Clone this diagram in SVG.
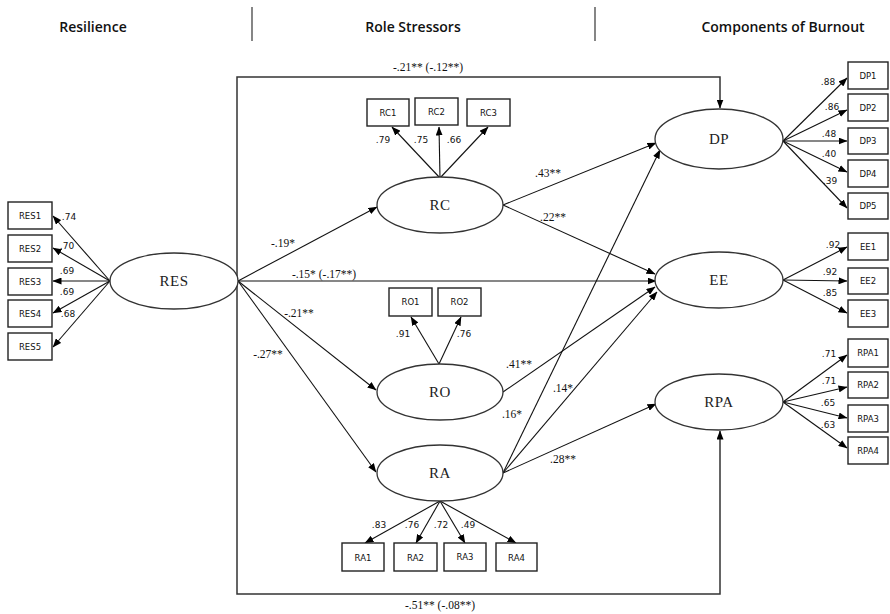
<svg xmlns="http://www.w3.org/2000/svg" width="890" height="614" viewBox="0 0 890 614">
<defs>
<marker id="ah" markerWidth="9" markerHeight="7" refX="8.5" refY="3.5" orient="auto" markerUnits="userSpaceOnUse">
<path d="M0,0 L9,3.5 L0,7 z" fill="#000"/>
</marker>
</defs>
<style>
.hdr{font-family:"Open Sans","Liberation Sans",sans-serif;font-weight:600;font-size:14px;fill:#111;text-anchor:middle}
.sep{stroke:#444;stroke-width:1.3}
.lat{fill:#fff;stroke:#333;stroke-width:1.3}
.latt{font-family:"Liberation Serif",serif;font-size:15px;fill:#222;text-anchor:middle;letter-spacing:0.5px}
.box{fill:#fff;stroke:#222;stroke-width:1.4}
.boxt{font-family:"DejaVu Sans","Liberation Sans",sans-serif;font-size:8.5px;fill:#111;text-anchor:middle}
.ld{font-family:"DejaVu Sans","Liberation Sans",sans-serif;font-size:9px;fill:#111;text-anchor:middle}
.pl{font-family:"Liberation Serif",serif;font-size:11.5px;fill:#111;text-anchor:middle}
.e{fill:none;stroke:#111;stroke-width:1.1;marker-end:url(#ah)}
.frame{fill:none;stroke:#333;stroke-width:1.5;marker-end:url(#ah)}
</style>
<g id="headers">
<text class="hdr" x="93" y="32">Resilience</text>
<line class="sep" x1="252" y1="7" x2="252" y2="41"/>
<text class="hdr" x="413" y="32">Role Stressors</text>
<line class="sep" x1="595" y1="7" x2="595" y2="41"/>
<text class="hdr" x="783" y="32">Components of Burnout</text>
</g>
<g id="connectors">
<path class="frame" d="M237,281 V77 H720 V108"/>
<path class="frame" d="M237,281 V594 H720 V431"/>
<line class="e" x1="110" y1="281" x2="53" y2="216"/>
<line class="e" x1="110" y1="281" x2="53" y2="248"/>
<line class="e" x1="110" y1="281" x2="53" y2="281"/>
<line class="e" x1="110" y1="281" x2="53" y2="313"/>
<line class="e" x1="110" y1="281" x2="53" y2="347"/>
<line class="e" x1="440" y1="178" x2="392" y2="127"/>
<line class="e" x1="440" y1="178" x2="439" y2="127"/>
<line class="e" x1="440" y1="178" x2="488" y2="127"/>
<line class="e" x1="439" y1="364" x2="411" y2="317"/>
<line class="e" x1="439" y1="364" x2="461" y2="317"/>
<line class="e" x1="440" y1="501" x2="365" y2="543"/>
<line class="e" x1="440" y1="501" x2="416" y2="543"/>
<line class="e" x1="440" y1="501" x2="465" y2="543"/>
<line class="e" x1="440" y1="501" x2="516" y2="543"/>
<line class="e" x1="783" y1="141" x2="847" y2="78"/>
<line class="e" x1="783" y1="141" x2="847" y2="110"/>
<line class="e" x1="783" y1="141" x2="847" y2="141"/>
<line class="e" x1="783" y1="141" x2="847" y2="172"/>
<line class="e" x1="783" y1="141" x2="847" y2="208"/>
<line class="e" x1="783" y1="280" x2="847" y2="247"/>
<line class="e" x1="783" y1="280" x2="847" y2="281"/>
<line class="e" x1="783" y1="280" x2="847" y2="313"/>
<line class="e" x1="783" y1="402" x2="847" y2="355"/>
<line class="e" x1="783" y1="402" x2="847" y2="387"/>
<line class="e" x1="783" y1="402" x2="847" y2="418"/>
<line class="e" x1="783" y1="402" x2="847" y2="448"/>
<line class="e" x1="238" y1="281" x2="377" y2="207"/>
<line class="e" x1="238" y1="281" x2="656" y2="281"/>
<line class="e" x1="238" y1="281" x2="376" y2="390"/>
<line class="e" x1="238" y1="281" x2="376" y2="472"/>
<line class="e" x1="503" y1="205" x2="656" y2="143"/>
<line class="e" x1="503" y1="205" x2="655" y2="274"/>
<line class="e" x1="503" y1="392" x2="655" y2="287"/>
<line class="e" x1="503" y1="473" x2="657" y2="292"/>
<line class="e" x1="503" y1="473" x2="660" y2="150"/>
<line class="e" x1="503" y1="473" x2="656" y2="404"/>
</g>
<g id="labels">
<text class="pl" x="428" y="71">-.21** (-.12**)</text>
<text class="pl" x="440" y="609">-.51** (-.08**)</text>
<text class="pl" x="283" y="247">-.19*</text>
<text class="pl" x="324" y="278">-.15* (-.17**)</text>
<text class="pl" x="299" y="317">-.21**</text>
<text class="pl" x="268" y="358">-.27**</text>
<text class="pl" x="548" y="177">.43**</text>
<text class="pl" x="553" y="221">.22**</text>
<text class="pl" x="519" y="368">.41**</text>
<text class="pl" x="563" y="392">.14*</text>
<text class="pl" x="512" y="418">.16*</text>
<text class="pl" x="563" y="463">.28**</text>
<text class="ld" x="69" y="220">.74</text>
<text class="ld" x="67" y="249">.70</text>
<text class="ld" x="67" y="274">.69</text>
<text class="ld" x="67" y="295">.69</text>
<text class="ld" x="68" y="317">.68</text>
<text class="ld" x="383" y="143">.79</text>
<text class="ld" x="421" y="143">.75</text>
<text class="ld" x="454" y="143">.66</text>
<text class="ld" x="403" y="337">.91</text>
<text class="ld" x="464" y="337">.76</text>
<text class="ld" x="379" y="528">.83</text>
<text class="ld" x="412" y="528">.76</text>
<text class="ld" x="441" y="528">.72</text>
<text class="ld" x="468" y="528">.49</text>
<text class="ld" x="828" y="85">.88</text>
<text class="ld" x="832" y="110">.86</text>
<text class="ld" x="829" y="137">.48</text>
<text class="ld" x="829" y="157">.40</text>
<text class="ld" x="830" y="184">.39</text>
<text class="ld" x="833" y="248">.92</text>
<text class="ld" x="830" y="275">.92</text>
<text class="ld" x="830" y="296">.85</text>
<text class="ld" x="829" y="357">.71</text>
<text class="ld" x="829" y="384">.71</text>
<text class="ld" x="828" y="406">.65</text>
<text class="ld" x="828" y="428">.63</text>
</g>
<g id="RES"><ellipse class="lat" cx="174" cy="281" rx="64" ry="28"/><text class="latt" x="174" y="286">RES</text></g>
<g id="RC"><ellipse class="lat" cx="440" cy="205" rx="63" ry="28"/><text class="latt" x="440" y="210">RC</text></g>
<g id="RO"><ellipse class="lat" cx="440" cy="392" rx="63" ry="28"/><text class="latt" x="440" y="397">RO</text></g>
<g id="RA"><ellipse class="lat" cx="440" cy="473" rx="63" ry="28"/><text class="latt" x="440" y="478">RA</text></g>
<g id="DP"><ellipse class="lat" cx="719" cy="139" rx="64" ry="30"/><text class="latt" x="719" y="144">DP</text></g>
<g id="EE"><ellipse class="lat" cx="719" cy="280" rx="64" ry="28"/><text class="latt" x="719" y="285">EE</text></g>
<g id="RPA"><ellipse class="lat" cx="719" cy="402" rx="64" ry="28"/><text class="latt" x="719" y="407">RPA</text></g>
<g id="RES1"><rect class="box" x="8" y="202" width="44" height="27"/><text class="boxt" x="30" y="219">RES1</text></g>
<g id="RES2"><rect class="box" x="8" y="235" width="44" height="27"/><text class="boxt" x="30" y="252">RES2</text></g>
<g id="RES3"><rect class="box" x="8" y="268" width="44" height="27"/><text class="boxt" x="30" y="285">RES3</text></g>
<g id="RES4"><rect class="box" x="8" y="300" width="44" height="27"/><text class="boxt" x="30" y="317">RES4</text></g>
<g id="RES5"><rect class="box" x="8" y="333" width="44" height="27"/><text class="boxt" x="30" y="350">RES5</text></g>
<g id="RC1"><rect class="box" x="367" y="99" width="42" height="27"/><text class="boxt" x="388" y="116">RC1</text></g>
<g id="RC2"><rect class="box" x="415" y="98" width="43" height="27"/><text class="boxt" x="436.5" y="115">RC2</text></g>
<g id="RC3"><rect class="box" x="467" y="99" width="43" height="27"/><text class="boxt" x="488.5" y="116">RC3</text></g>
<g id="RO1"><rect class="box" x="389" y="288" width="43" height="28"/><text class="boxt" x="410.5" y="305">RO1</text></g>
<g id="RO2"><rect class="box" x="438" y="288" width="43" height="28"/><text class="boxt" x="459.5" y="305">RO2</text></g>
<g id="RA1"><rect class="box" x="342" y="543" width="42" height="28"/><text class="boxt" x="363" y="561">RA1</text></g>
<g id="RA2"><rect class="box" x="394" y="543" width="43" height="28"/><text class="boxt" x="415.5" y="561">RA2</text></g>
<g id="RA3"><rect class="box" x="444" y="543" width="42" height="28"/><text class="boxt" x="465" y="560">RA3</text></g>
<g id="RA4"><rect class="box" x="496" y="543" width="41" height="28"/><text class="boxt" x="516.5" y="561">RA4</text></g>
<g id="DP1"><rect class="box" x="848" y="62" width="40" height="27"/><text class="boxt" x="868" y="79">DP1</text></g>
<g id="DP2"><rect class="box" x="848" y="94" width="40" height="27"/><text class="boxt" x="868" y="111">DP2</text></g>
<g id="DP3"><rect class="box" x="848" y="128" width="40" height="26"/><text class="boxt" x="868" y="144">DP3</text></g>
<g id="DP4"><rect class="box" x="848" y="160" width="40" height="27"/><text class="boxt" x="868" y="177">DP4</text></g>
<g id="DP5"><rect class="box" x="848" y="193" width="40" height="26"/><text class="boxt" x="868" y="209">DP5</text></g>
<g id="EE1"><rect class="box" x="848" y="233" width="40" height="27"/><text class="boxt" x="868" y="250">EE1</text></g>
<g id="EE2"><rect class="box" x="848" y="268" width="40" height="26"/><text class="boxt" x="868" y="284">EE2</text></g>
<g id="EE3"><rect class="box" x="848" y="300" width="40" height="27"/><text class="boxt" x="868" y="317">EE3</text></g>
<g id="RPA1"><rect class="box" x="848" y="339" width="40" height="28"/><text class="boxt" x="868" y="356">RPA1</text></g>
<g id="RPA2"><rect class="box" x="848" y="372" width="40" height="26"/><text class="boxt" x="868" y="388">RPA2</text></g>
<g id="RPA3"><rect class="box" x="848" y="405" width="40" height="27"/><text class="boxt" x="868" y="422">RPA3</text></g>
<g id="RPA4"><rect class="box" x="848" y="437" width="40" height="27"/><text class="boxt" x="868" y="454">RPA4</text></g>
</svg>
